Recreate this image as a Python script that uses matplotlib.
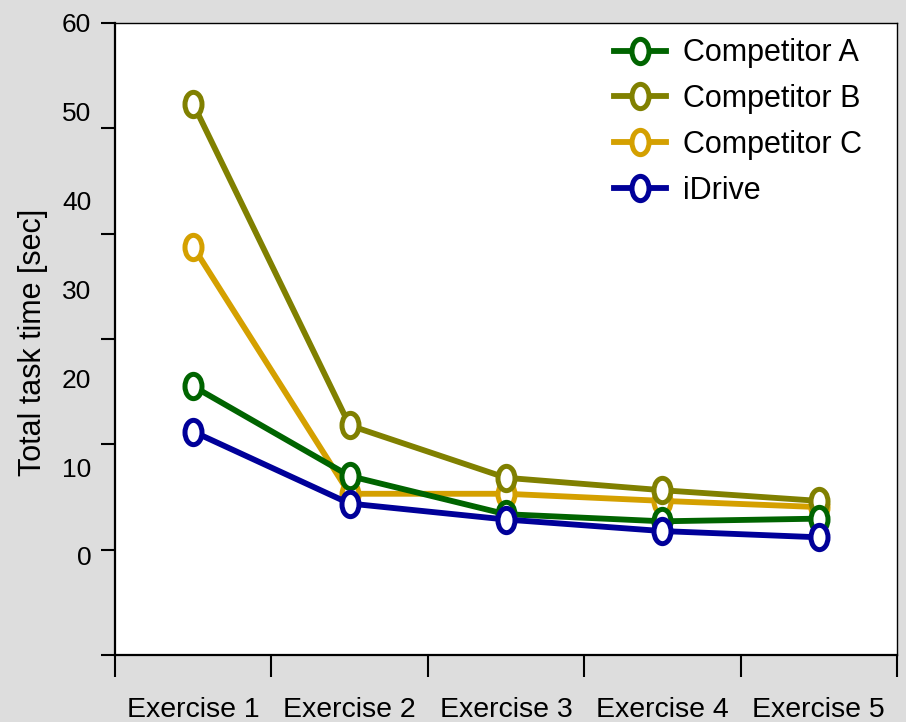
import numpy as np
import matplotlib
matplotlib.use("Agg")
import matplotlib.pyplot as plt
from matplotlib.path import Path

plt.rcParams["font.family"] = ["Liberation Sans", "DejaVu Sans"]

# data
exercises = ["Exercise 1", "Exercise 2", "Exercise 3", "Exercise 4", "Exercise 5"]
comp_a = [19.1, 9.0, 4.7, 3.9, 4.2]
comp_b = [50.9, 14.7, 8.8, 7.4, 6.2]
comp_c = [34.8, 7.0, 7.0, 6.2, 5.5]
idrive = [14.0, 5.9, 4.1, 2.8, 2.1]
ylabels = [0, 10, 20, 30, 40, 50, 60]

series = [
    ("Competitor A", comp_a, "#006400", 4),
    ("Competitor B", comp_b, "#808000", 3),
    ("Competitor C", comp_c, "#d4a000", 2),
    ("iDrive", idrive, "#000099", 5),
]

# tall ellipse marker
circ = Path.unit_circle()
ell = Path(circ.vertices * np.array([0.7, 1.0]), circ.codes)

fig = plt.figure(figsize=(9.06, 7.22), dpi=100, facecolor="#dddddd")
ax = fig.add_axes([0.1269, 0.0928, 0.8631, 0.8754])
ax.set_facecolor("white")

x = np.arange(len(exercises))
for name, vals, col, z in series:
    ax.plot(x, vals, color=col, lw=4.2, marker=ell, ms=17.5, mfc="white",
            mec=col, mew=3.6, label=name, zorder=z)

ymin = -11.15
ax.set_ylim(ymin, 60)
ax.set_xlim(-0.5, 4.5)

# tick marks and labels are placed separately, as in the original
ax.yaxis.remove_overlapping_locs = False
ax.set_yticks(np.linspace(ymin, 60, 7))
ax.set_yticklabels([])
ax.set_yticks(ylabels, minor=True)
ax.set_yticklabels([str(v) for v in ylabels], minor=True, fontsize=19)
ax.tick_params(axis="y", which="major", direction="out", length=10, width=1.5)
ax.tick_params(axis="y", which="minor", length=0, pad=17)

ax.set_xticks(np.arange(-0.5, 5, 1))
ax.set_xticklabels([])
ax.set_xticks(x, minor=True)
ax.set_xticklabels(exercises, minor=True, fontsize=20.5)
ax.tick_params(axis="x", which="major", direction="out", length=16, width=1.5)
ax.tick_params(axis="x", which="minor", length=0, pad=30)

for s in ["left", "bottom"]:
    ax.spines[s].set_linewidth(1.6)
for s in ["top", "right"]:
    ax.spines[s].set_linewidth(1.0)

ax.set_ylabel("Total task time [sec]", fontsize=22)
ax.yaxis.set_label_coords(-0.086, 0.494)

ax.legend(loc="upper right", frameon=False, fontsize=22, numpoints=1,
          handlelength=1.7, handletextpad=0.55, labelspacing=0.52,
          borderaxespad=0.1, bbox_to_anchor=(0.975, 1.0))

fig.savefig("out.png", dpi=100, facecolor=fig.get_facecolor())
